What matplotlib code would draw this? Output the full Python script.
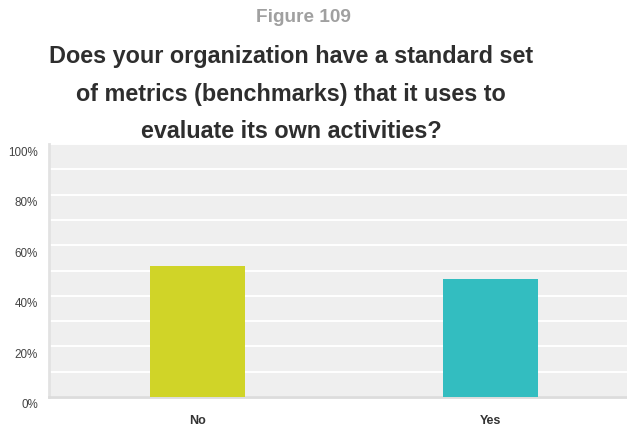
import numpy as np
import matplotlib.pyplot as plt
import matplotlib.transforms as mtransforms

answers = ["No", "Yes"]
shares = [51.8, 46.6]
bar_colors = ["#d0d428", "#33bdc0"]
y_ticks = [0, 20, 40, 60, 80, 100]

plt.rcParams["font.family"] = ["Liberation Sans", "DejaVu Sans"]

fig = plt.figure(figsize=(6.27, 4.26), dpi=100)
ax = fig.add_axes([49 / 627, 29 / 426, 578 / 627, 253 / 426])
ax.set_facecolor("#efefef")

x = np.arange(len(answers))
ax.bar(x, shares, width=0.324, color=bar_colors, zorder=3)

ax.set_xlim(-0.507, 1.466)
ax.set_ylim(0, 100)
ax.set_yticks(y_ticks)
ax.set_yticklabels([f"{v}%" for v in y_ticks], fontsize=8.4, color="#444444")
ax.set_yticks(range(10, 100, 20), minor=True)
ax.grid(axis="y", which="both", color="white", linewidth=1.4, zorder=1)
ax.tick_params(axis="y", which="both", length=0, pad=8)
# labels sit a little below their gridlines
shift = mtransforms.ScaledTranslation(0, -7 / 100, fig.dpi_scale_trans)
for lbl in ax.get_yticklabels():
    lbl.set_transform(lbl.get_transform() + shift)

ax.set_xticks(x)
ax.set_xticklabels(answers, fontsize=9, fontweight="bold", color="#333333")
ax.tick_params(axis="x", length=0, pad=13)

for side in ["top", "right"]:
    ax.spines[side].set_visible(False)
ax.spines["left"].set_color("#e2e2e2")
ax.spines["left"].set_linewidth(2)
ax.spines["bottom"].set_color("#dcdcdc")
ax.spines["bottom"].set_linewidth(2)

fig.text(303 / 627, 1 - 18 / 426, "Figure 109", ha="center", va="center",
         fontsize=13.7, fontweight="bold", color="#a0a0a0")
title_lines = ["Does your organization have a standard set",
               "of metrics (benchmarks) that it uses to",
               "evaluate its own activities?"]
for i, line in enumerate(title_lines):
    fig.text(291 / 627, 1 - (57 + 37 * i) / 426, line, ha="center", va="center",
             fontsize=16.8, fontweight="bold", color="#2e2e2e")

fig.savefig("out.png", dpi=100)
